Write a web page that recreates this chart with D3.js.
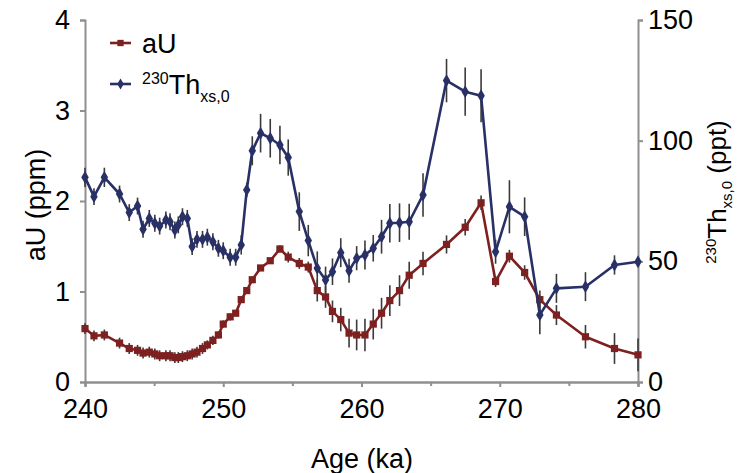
<!DOCTYPE html>
<html>
<head>
<meta charset="utf-8">
<script src="https://cdn.jsdelivr.net/npm/d3@7"></script>
<style>
  html, body { margin: 0; padding: 0; background: #fff; }
  svg text { font-family: "Liberation Sans", Arial, Helvetica, sans-serif; fill: #000; }
</style>
</head>
<body>
<svg id="chart" width="738" height="473"></svg>
<script>
// Sample ages (ka), shared by both records
const ages = [240.0, 240.65, 241.4, 242.5, 243.2, 243.8, 244.2, 244.65, 245.05, 245.4,
  245.85, 246.15, 246.5, 246.75, 247.05, 247.4, 247.75, 248.1, 248.5, 248.85,
  249.25, 249.65, 250.0, 250.5, 250.9, 251.3, 251.7, 252.1, 252.7, 253.4,
  254.1, 254.7, 255.5, 256.15, 256.8, 257.4, 257.9, 258.5, 259.1, 259.65,
  260.25, 260.85, 261.45, 262.05, 262.75, 263.45, 264.45, 266.15, 267.5, 268.65,
  269.7, 270.7, 271.8, 272.9, 274.1, 276.2, 278.3, 280.0];

// Authigenic uranium (ppm) and its uncertainty
const aU = [0.59, 0.51, 0.52, 0.43, 0.37, 0.35, 0.32, 0.33, 0.31, 0.29,
  0.29, 0.29, 0.27, 0.27, 0.28, 0.29, 0.31, 0.33, 0.37, 0.41,
  0.46, 0.52, 0.64, 0.72, 0.76, 0.91, 1.01, 1.13, 1.26, 1.34,
  1.47, 1.38, 1.31, 1.27, 1.01, 0.94, 0.78, 0.69, 0.54, 0.52,
  0.52, 0.64, 0.76, 0.90, 1.01, 1.18, 1.31, 1.52, 1.71, 1.98,
  1.11, 1.39, 1.21, 0.91, 0.74, 0.50, 0.37, 0.30];
const aUErr = [0.06, 0.06, 0.06, 0.06, 0.06, 0.06, 0.06, 0.06, 0.06, 0.06,
  0.06, 0.06, 0.06, 0.06, 0.06, 0.06, 0.06, 0.06, 0.06, 0.05,
  0.05, 0.04, 0.04, 0.04, 0.03, 0.03, 0.03, 0.03, 0.03, 0.03,
  0.04, 0.06, 0.06, 0.06, 0.12, 0.12, 0.12, 0.13, 0.16, 0.17,
  0.18, 0.17, 0.17, 0.17, 0.17, 0.15, 0.13, 0.10, 0.09, 0.08,
  0.06, 0.07, 0.08, 0.10, 0.11, 0.13, 0.17, 0.18];

// Initial excess thorium-230 (ppt) and its uncertainty
const th230 = [84.8, 76.8, 84.8, 77.9, 70.2, 72.9, 63.3, 67.8, 65.8, 64.6,
  67.1, 66.4, 63.0, 65.1, 68.5, 67.8, 56.1, 59.1, 59.1, 60.0,
  58.1, 55.4, 54.4, 51.7, 51.7, 56.8, 79.6, 95.8, 103.1, 101.0,
  98.2, 93.0, 70.6, 58.6, 47.1, 42.3, 45.7, 53.6, 46.1, 51.3,
  52.6, 55.4, 60.2, 65.8, 66.0, 66.4, 77.5, 124.9, 120.3, 118.6,
  54.0, 72.6, 68.5, 27.8, 38.8, 39.5, 48.5, 49.8];
const th230Err = [4, 3.5, 4, 3.5, 3.5, 3.5, 3.5, 3.5, 3.5, 3.5,
  3.5, 3.5, 3.5, 3.5, 3.5, 3.5, 3.5, 3.5, 3.5, 3.5,
  3.5, 3.5, 3.5, 3.5, 3.5, 4, 3, 6, 8, 8,
  8, 7.5, 8, 6.5, 7, 5.5, 5.5, 6, 5, 5,
  6, 5.5, 7, 8, 8, 7.5, 9, 9, 10, 11,
  5, 11, 8, 8, 6, 6, 4, 2];

const xTicks = [240, 250, 260, 270, 280];
const xMinorTicks = [245, 255, 265, 275];
const leftTicks = [0, 1, 2, 3, 4];
const rightTicks = [0, 50, 100, 150];

const red = "#7e2020";
const blue = "#283066";
const axisGrey = "#8f8f8f";

const svg = d3.select("#chart");
const x = d3.scaleLinear().domain([240, 280]).range([85, 638]);
const yL = d3.scaleLinear().domain([0, 4]).range([382, 20]);
const yR = d3.scaleLinear().domain([0, 150]).range([382, 20]);

const fontSize = 27;

function styleAxis(g) {
  g.select(".domain").attr("stroke", axisGrey).attr("stroke-width", 2);
  g.selectAll(".tick line").attr("stroke", axisGrey).attr("stroke-width", 2);
  g.selectAll(".tick text").attr("font-size", fontSize)
    .attr("font-family", "Liberation Sans, Arial, sans-serif").attr("fill", "#000");
}

// Bottom axis: minor ticks first, then labelled major ticks
svg.append("g").attr("transform", "translate(0,382)")
  .call(d3.axisBottom(x).tickValues(xMinorTicks).tickSizeOuter(0).tickSize(4).tickFormat(""))
  .call(styleAxis);
svg.append("g").attr("transform", "translate(0,382)")
  .call(d3.axisBottom(x).tickValues(xTicks).tickSizeOuter(0).tickSize(5).tickPadding(12).tickFormat(d3.format("d")))
  .call(styleAxis);

svg.append("g").attr("transform", "translate(85,0)")
  .call(d3.axisLeft(yL).tickValues(leftTicks).tickSizeOuter(0).tickSize(5).tickPadding(10).tickFormat(d3.format("d")))
  .call(styleAxis);

svg.append("g").attr("transform", "translate(638,0)")
  .call(d3.axisRight(yR).tickValues(rightTicks).tickSizeOuter(0).tickSize(5).tickPadding(5).tickFormat(d3.format("d")))
  .call(styleAxis);

// Axis titles
svg.append("text").attr("x", 362).attr("y", 468).attr("text-anchor", "middle")
  .attr("font-size", fontSize).text("Age (ka)");

svg.append("text").attr("transform", "translate(45,205) rotate(-90)")
  .attr("text-anchor", "middle").attr("font-size", fontSize).text("aU (ppm)");

const rLabel = svg.append("text").attr("transform", "translate(726,192) rotate(-90)")
  .attr("text-anchor", "middle").attr("font-size", 26);
rLabel.append("tspan").attr("font-size", 15).attr("dy", -10).text("230");
rLabel.append("tspan").attr("dy", 10).text("Th");
rLabel.append("tspan").attr("font-size", 15).attr("dy", 6).text("xs,0");
rLabel.append("tspan").attr("dy", -6).text(" (ppt)");

// One series: error bars, connecting line, markers
function drawSeries(values, errs, yScale, color, symbol, size) {
  const pts = ages.map((a, i) => ({ a, v: values[i], e: errs[i] }));
  const g = svg.append("g");
  g.selectAll("line.err").data(pts).join("line").attr("class", "err")
    .attr("x1", d => x(d.a)).attr("x2", d => x(d.a))
    .attr("y1", d => yScale(d.v - d.e)).attr("y2", d => yScale(d.v + d.e))
    .attr("stroke", "#3a3a3a").attr("stroke-width", 1.6);
  g.append("path").datum(pts)
    .attr("d", d3.line().x(d => x(d.a)).y(d => yScale(d.v)))
    .attr("fill", "none").attr("stroke", color).attr("stroke-width", 2.6)
    .attr("stroke-linejoin", "round");
  g.selectAll("path.mk").data(pts).join("path").attr("class", "mk")
    .attr("transform", d => `translate(${x(d.a)},${yScale(d.v)})`)
    .attr("d", d3.symbol().type(symbol).size(size)())
    .attr("fill", color);
}

drawSeries(aU, aUErr, yL, red, d3.symbolSquare, 52);
drawSeries(th230, th230Err, yR, blue, d3.symbolDiamond, 48);

// Legend
const legend = svg.append("g");
const legendItems = [
  { y: 43, color: red, symbol: d3.symbolSquare, size: 40 },
  { y: 84, color: blue, symbol: d3.symbolDiamond, size: 36 }
];
legendItems.forEach(it => {
  legend.append("line").attr("x1", 110).attr("x2", 131).attr("y1", it.y).attr("y2", it.y)
    .attr("stroke", it.color).attr("stroke-width", 2.6);
  legend.append("path").attr("transform", `translate(120.5,${it.y})`)
    .attr("d", d3.symbol().type(it.symbol).size(it.size)()).attr("fill", it.color);
});
legend.append("text").attr("x", 142).attr("y", 53).attr("font-size", fontSize).text("aU");
const lt = legend.append("text").attr("x", 142).attr("y", 94).attr("font-size", fontSize);
lt.append("tspan").attr("font-size", 16).attr("dy", -10).text("230");
lt.append("tspan").attr("dy", 10).text("Th");
lt.append("tspan").attr("font-size", 16).attr("dy", 8).text("xs,0");
</script>
</body>
</html>
